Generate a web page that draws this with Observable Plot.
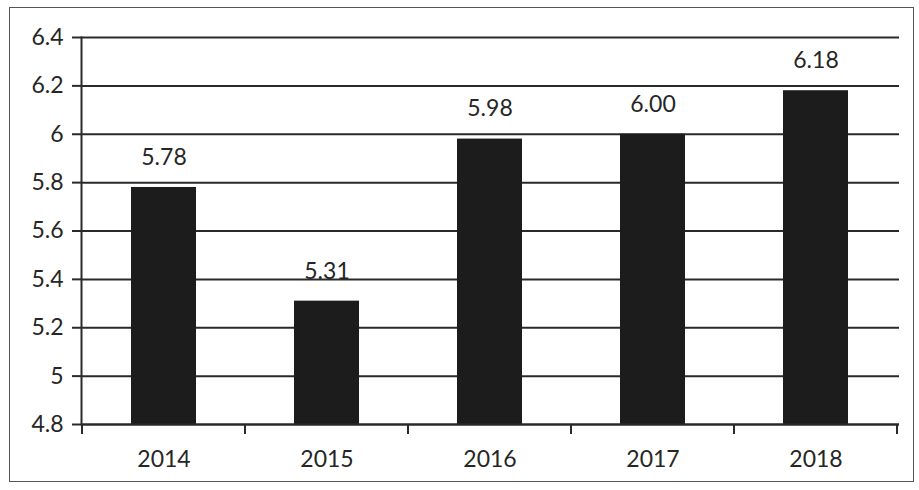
<!DOCTYPE html>
<html>
<head>
<meta charset="utf-8">
<script src="https://cdn.jsdelivr.net/npm/d3@7"></script>
<script src="https://cdn.jsdelivr.net/npm/@observablehq/plot@0.6"></script>
<style>
  html, body { margin: 0; padding: 0; background: #fff; }
  #wrap { position: relative; width: 919px; height: 490px; }
  #frame { position: absolute; left: 9px; top: 7px; width: 905px; height: 475px; border: 1.5px solid #555; box-sizing: border-box; pointer-events: none; }
  svg { display: block; }
</style>
</head>
<body>
<div id="wrap"><div id="frame"></div></div>
<script>
const years = ["2014", "2015", "2016", "2017", "2018"];
const values = [5.78, 5.31, 5.98, 6.00, 6.18];
const yTicks = [4.8, 5.0, 5.2, 5.4, 5.6, 5.8, 6.0, 6.2, 6.4];

const data = years.map((year, i) => ({year, value: values[i]}));

function boundaryTicks(index, scales, values, dimensions) {
  const sx = scales.x;
  const bw = typeof sx.bandwidth === "function" ? sx.bandwidth() : sx.bandwidth;
  const step = typeof sx.step === "function" ? sx.step() : bw / 0.4;
  const y0 = dimensions.height - dimensions.marginBottom;
  const g = d3.create("svg:g").attr("stroke", "#2a2a2a").attr("stroke-width", 2);
  const xs = years.map(d => sx(d) + bw / 2 - step / 2);
  xs.push(sx(years[years.length - 1]) + bw / 2 + step / 2);
  for (const x of xs) {
    g.append("line").attr("x1", x).attr("x2", x).attr("y1", y0).attr("y2", y0 + 10);
  }
  return g.node();
}

const plot = Plot.plot({
  width: 919,
  height: 490,
  marginTop: 37,
  marginBottom: 66,
  marginLeft: 81,
  marginRight: 20,
  style: {fontFamily: "Lato, 'Open Sans', sans-serif", fontSize: "22px", color: "#262626", background: "transparent"},
  x: {domain: years, paddingInner: 0.6, paddingOuter: 0.3, label: null},
  y: {domain: [4.8, 6.4], label: null},
  marks: [
    Plot.ruleY(yTicks, {stroke: "#2a2a2a", strokeWidth: 2}),
    Plot.barY(data, {x: "year", y1: 4.8, y2: "value", fill: "#1c1c1c"}),
    Plot.text(data, {x: "year", y: "value", text: d => d.value.toFixed(2), dy: -30, fill: "#262626", fontSize: 23}),
    Plot.axisY({ticks: yTicks, tickSize: 9, tickPadding: 9, tickFormat: d => d3.format("")(+d.toFixed(1)), stroke: "#2a2a2a", strokeWidth: 2, fontSize: 23}),
    Plot.axisX({tickSize: 0, tickPadding: 26, fontSize: 23}),
    Plot.frame({anchor: "left", stroke: "#2a2a2a", strokeWidth: 2}),
    Plot.ruleY([4.8], {stroke: "#2a2a2a", strokeWidth: 2}),
    boundaryTicks
  ]
});
document.getElementById("wrap").prepend(plot);
</script>
</body>
</html>
